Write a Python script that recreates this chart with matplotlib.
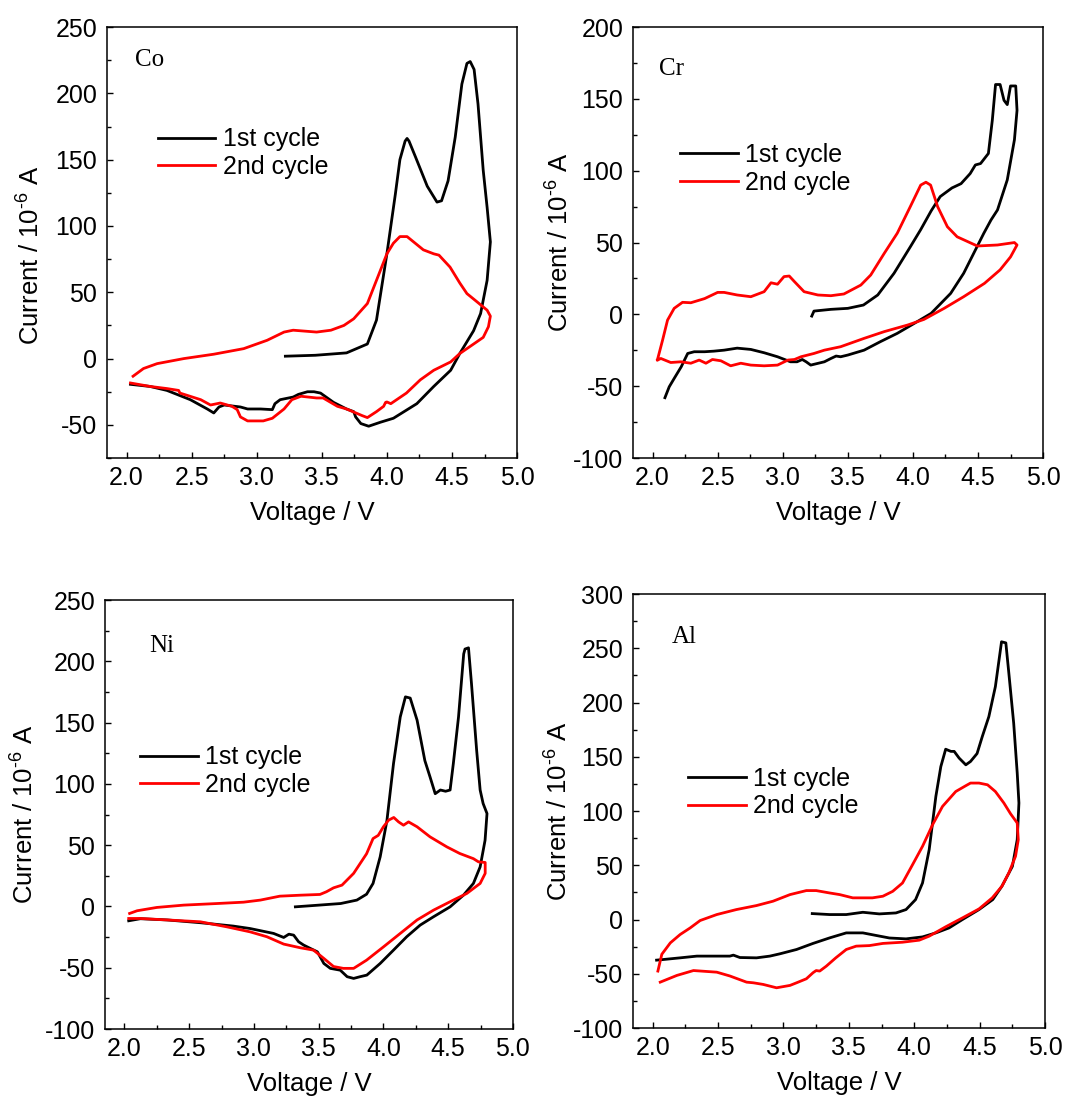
import numpy as np
import matplotlib
matplotlib.use('Agg')
import matplotlib.pyplot as plt
from matplotlib.ticker import MultipleLocator

plt.rcParams['font.family'] = ['Liberation Sans', 'DejaVu Sans']
plt.rcParams['mathtext.fontset'] = 'custom'
plt.rcParams['mathtext.rm'] = 'Liberation Sans'
plt.rcParams['mathtext.it'] = 'Liberation Sans:italic'
plt.rcParams['axes.unicode_minus'] = False

# ---- Co ----
co_v1 = [3.22, 3.45, 3.69, 3.85, 3.92, 4.0, 4.065, 4.10, 4.14, 4.155, 4.17, 4.22, 4.31, 4.385, 4.42, 4.47,
         4.525, 4.576, 4.615, 4.64, 4.67, 4.70, 4.74, 4.77, 4.795, 4.77, 4.72, 4.666, 4.56, 4.49,
         4.36, 4.23, 4.05, 3.95, 3.86, 3.80, 3.76, 3.745, 3.69, 3.59, 3.49, 3.44, 3.39, 3.32, 3.28,
         3.18, 3.14, 3.12, 3.03, 2.93, 2.875, 2.75, 2.71, 2.67, 2.62, 2.49, 2.31, 2.18, 2.03]
co_i1 = [1.8, 2.5, 4.3, 11, 29, 79, 124, 150, 164, 166, 164, 152, 130, 118, 119, 134,
         167, 207, 222.6, 224, 218, 192, 142, 114, 88, 59, 34, 21, 3.8, -8.8,
         -21, -34, -45, -48, -51, -49, -44, -40, -38, -33, -26, -25, -25, -27, -29,
         -31, -34, -38.5, -38, -38, -36.5, -35, -36.5, -41, -38, -31, -24, -21, -19.4]
co_v2 = [2.05, 2.13, 2.235, 2.44, 2.67, 2.9, 3.08, 3.21, 3.28, 3.46, 3.57, 3.67, 3.745, 3.85,
         3.92, 4.0, 4.05, 4.10, 4.155, 4.205, 4.28, 4.36, 4.40, 4.485, 4.56, 4.615, 4.69, 4.77,
         4.795, 4.78, 4.74, 4.69, 4.56, 4.49, 4.36, 4.257, 4.15, 4.03, 4.0, 3.99, 3.975, 3.92,
         3.85, 3.81, 3.69, 3.62, 3.51, 3.46, 3.34, 3.27, 3.21, 3.12, 3.05, 2.93, 2.875, 2.85,
         2.81, 2.72, 2.645, 2.57, 2.465, 2.41, 2.40, 2.31, 2.18, 2.03]
co_i2 = [-13.3, -7.5, -3.8, 0, 3.3, 7.5, 13.8, 20, 21.4, 20, 21.4, 25, 30, 41.5,
         59, 79, 87, 92, 92, 88, 82, 79, 78, 69, 57, 49, 43, 36.5,
         32, 24, 16, 12.6, 3.8, -2.5, -8.8, -16, -26, -34, -32.7, -33, -36, -40,
         -44.5, -43, -38, -36, -29.7, -29.7, -28.4, -31, -38, -45, -47, -47, -44, -38.5,
         -36, -33.5, -35, -31, -27.7, -26, -24, -22.6, -21, -18.4]

# ---- Cr ----
cr_v1 = [3.223, 3.24, 3.37, 3.50, 3.62, 3.73, 3.855, 3.98, 4.06, 4.14, 4.21, 4.30, 4.37, 4.44,
         4.48, 4.52, 4.58, 4.61, 4.635, 4.67, 4.70, 4.725, 4.75, 4.79, 4.80, 4.78, 4.725, 4.65,
         4.60, 4.545, 4.39, 4.29, 4.14, 4.01, 3.88, 3.75, 3.625, 3.50, 3.445, 3.41, 3.37, 3.32,
         3.215, 3.18, 3.15, 3.11, 3.06, 2.96, 2.857, 2.755, 2.65, 2.55, 2.47, 2.40, 2.32, 2.27,
         2.22, 2.166, 2.128, 2.095]
cr_i1 = [-1.2, 2.3, 3.5, 4.2, 6.5, 13.5, 28.6, 47, 59, 72, 82, 88, 91, 98,
         104, 105, 112, 135, 160, 160, 149, 146, 159, 159, 142, 121.5, 93.6, 72.7,
         65.7, 56.5, 28.6, 14.6, 0.7, -6.3, -13.2, -19, -24.9, -28.3, -29.5, -29, -30.7, -33,
         -35.3, -33, -31.4, -33, -33, -29.5, -26.7, -24.4, -23.5, -24.9, -25.6, -26, -26, -27.2,
         -36.5, -44.6, -50.4, -58]
cr_v2 = [2.038, 2.077, 2.115, 2.166, 2.23, 2.294, 2.40, 2.50, 2.55, 2.65, 2.755, 2.857, 2.91,
         2.96, 3.01, 3.05, 3.09, 3.164, 3.27, 3.37, 3.47, 3.60, 3.676, 3.78, 3.88, 3.98, 4.06,
         4.10, 4.136, 4.19, 4.265, 4.34, 4.495, 4.65, 4.78, 4.80, 4.75, 4.67, 4.55, 4.39, 4.24,
         4.085, 3.96, 3.78, 3.625, 3.445, 3.32, 3.24, 3.14, 3.09, 3.04, 2.96, 2.857, 2.755,
         2.678, 2.60, 2.525, 2.46, 2.41, 2.358, 2.294, 2.217, 2.14, 2.064, 2.038]
cr_i2 = [-31.4, -17.9, -4, 4.2, 8.4, 8.1, 11, 15.3, 15.3, 13.5, 12.3, 15.8, 22,
         21, 26.3, 26.7, 22.8, 15.8, 13.5, 13, 14.2, 20.4, 27.4, 42.5, 56.5, 75, 90,
         92, 90, 75, 61, 54, 47.6, 48.3, 50, 48.3, 40, 31, 21.6, 12.3, 4.2,
         -3.5, -7.4, -12, -16.7, -22.5, -24.9, -27.2, -29.5, -31.4, -31.8, -35.3, -35.8, -35.3,
         -34, -35.8, -32.3, -31.4, -34, -31.8, -34, -33, -33.5, -30.7, -31.8]

# ---- Ni ----
ni_v1 = [3.32, 3.49, 3.67, 3.795, 3.87, 3.92, 3.975, 4.027, 4.078, 4.13, 4.17, 4.207, 4.26,
         4.32, 4.36, 4.40, 4.44, 4.48, 4.515, 4.54, 4.58, 4.62, 4.63, 4.657, 4.68, 4.72, 4.747,
         4.77, 4.80, 4.785, 4.747, 4.695, 4.618, 4.515, 4.387, 4.284, 4.18, 4.078, 3.975, 3.872,
         3.82, 3.77, 3.72, 3.667, 3.59, 3.54, 3.49, 3.435, 3.384, 3.345, 3.307, 3.27, 3.23,
         3.152, 2.97, 2.84, 2.59, 2.33, 2.123, 2.033]
ni_i1 = [-0.3, 1, 2.4, 5.2, 10, 18.8, 40.5, 70, 116.6, 154.6, 171, 170, 152,
         119, 105.7, 92, 95, 94, 95, 116.6, 154.6, 206, 210, 211, 182, 127.4, 95,
         84, 75.8, 54, 32.3, 18.8, 9.2, -0.3, -8.4, -15.2, -24.7, -35.6, -46.5, -56,
         -57.3, -58.7, -57.3, -52, -50.5, -46.5, -37, -34.2, -31.5, -28.8, -23.4, -22.6, -25.3,
         -22, -18, -16, -13.3, -11, -10, -11.7]
ni_v2 = [2.04, 2.098, 2.25, 2.458, 2.715, 2.92, 3.05, 3.20, 3.36, 3.51, 3.56, 3.615, 3.68,
         3.77, 3.87, 3.92, 3.96, 4.0, 4.04, 4.08, 4.117, 4.155, 4.194, 4.26, 4.36, 4.49, 4.59,
         4.695, 4.734, 4.786, 4.786, 4.747, 4.644, 4.54, 4.387, 4.26, 4.13, 4.0, 3.87, 3.77,
         3.69, 3.615, 3.54, 3.46, 3.358, 3.23, 3.10, 2.97, 2.79, 2.586, 2.33, 2.123, 2.033]
ni_i2 = [-5.7, -3.5, -0.8, 1.1, 2.4, 3.5, 5.2, 8.4, 9.2, 9.8, 12, 15.2, 17.4,
         27, 43, 55.4, 58, 65, 70.4, 72.6, 69, 66.3, 69, 65, 56.8, 48.6, 43.2,
         39, 36.4, 35.9, 27, 18.8, 10.6, 5.2, -3, -11, -22, -33, -43.8, -50.5,
         -50.5, -49, -42.4, -35.6, -33.7, -30.7, -24.7, -20.7, -16.6, -12.5, -11, -9.8, -9.8]

# ---- Al ----
al_v1 = [3.22, 3.353, 3.48, 3.607, 3.733, 3.86, 3.937, 4.01, 4.063, 4.114, 4.165, 4.203, 4.24,
         4.28, 4.305, 4.343, 4.394, 4.43, 4.48, 4.52, 4.57, 4.62, 4.667, 4.70, 4.723, 4.76,
         4.787, 4.80, 4.787, 4.75, 4.67, 4.60, 4.495, 4.368, 4.266, 4.165, 4.063, 3.937, 3.81,
         3.71, 3.607, 3.48, 3.353, 3.226, 3.10, 2.972, 2.896, 2.794, 2.667, 2.617, 2.59, 2.464,
         2.338, 2.21, 2.084, 2.03]
al_i1 = [5.5, 4.6, 4.6, 6.7, 5.2, 6.1, 9.2, 18.4, 33.7, 64.4, 113.5, 141, 157,
         155, 155, 148.8, 142.6, 145.7, 153, 168.7, 187, 214.7, 256, 255, 227, 181,
         135, 107.4, 73.6, 49, 30.7, 18.4, 9.2, 0, -7.7, -12.3, -16, -17.8, -17,
         -14.7, -12.3, -12.3, -16.9, -22, -27.6, -31.6, -33.7, -35.3, -35, -32.8, -33.7, -33.7,
         -33.7, -35.3, -36.8, -37.4]
al_v2 = [2.04, 2.07, 2.135, 2.21, 2.287, 2.363, 2.49, 2.64, 2.794, 2.92, 3.05, 3.175, 3.25,
         3.353, 3.43, 3.53, 3.68, 3.76, 3.835, 3.91, 3.987, 4.063, 4.14, 4.216, 4.317, 4.393,
         4.43, 4.495, 4.56, 4.62, 4.685, 4.736, 4.787, 4.795, 4.774, 4.723, 4.67, 4.596, 4.495,
         4.368, 4.24, 4.114, 4.038, 3.91, 3.76, 3.657, 3.556, 3.48, 3.40, 3.327, 3.277, 3.25,
         3.226, 3.175, 3.10, 3.05, 2.947, 2.845, 2.77, 2.718, 2.59, 2.49, 2.312, 2.185, 2.058]
al_i2 = [-47.5, -32, -21.5, -13.8, -7.7, -0.9, 4.6, 9.2, 12.9, 16.9, 23, 26.7, 26.7,
         24.5, 23, 20, 20, 21.5, 26, 33.7, 50.6, 67.5, 87.4, 104.3, 118, 123.3,
         125.8, 125.8, 124.2, 118, 107.4, 97.5, 89, 73.6, 58.3, 43, 30.7, 20, 9.8,
         1.5, -6.7, -15.3, -19, -20.9, -22, -24, -24.5, -27.6, -35.3, -43, -47.5, -47,
         -49, -54.6, -58.3, -60.7, -62.9, -59.8, -58.3, -57.7, -52, -48.5, -47, -51.5, -57.7]

panels = [
    dict(rect=[0.1005, 0.5851, 0.385, 0.3904], ylim=(-75, 250), name='Co', name_xy=(0.068, 0.923),
         leg_xy=(0.124, 0.767), ylab_xy=(-0.185, 0.47), data=(co_v1, co_i1, co_v2, co_i2)),
    dict(rect=[0.5944, 0.5851, 0.385, 0.3904], ylim=(-100, 200), name='Cr', name_xy=(0.063, 0.903),
         leg_xy=(0.115, 0.731), ylab_xy=(-0.178, 0.5), data=(cr_v1, cr_i1, cr_v2, cr_i2)),
    dict(rect=[0.0986, 0.0679, 0.383, 0.3886], ylim=(-100, 250), name='Ni', name_xy=(0.108, 0.893),
         leg_xy=(0.086, 0.661), ylab_xy=(-0.196, 0.5), data=(ni_v1, ni_i1, ni_v2, ni_i2)),
    dict(rect=[0.5944, 0.0688, 0.3869, 0.3931], ylim=(-100, 300), name='Al', name_xy=(0.095, 0.900),
         leg_xy=(0.1335, 0.6025), ylab_xy=(-0.18, 0.5), data=(al_v1, al_i1, al_v2, al_i2)),
]

fig = plt.figure(figsize=(10.65, 11.04), dpi=100)
for p in panels:
    ax = fig.add_axes(p['rect'])
    v1, i1, v2, i2 = p['data']
    ax.plot(v1, i1, color='black', lw=2.0, label='1st cycle', solid_joinstyle='round')
    ax.plot(v2, i2, color='red', lw=2.0, label='2nd cycle', solid_joinstyle='round')
    ax.set_xlim(1.85, 5.0)
    ax.set_ylim(*p['ylim'])
    ax.xaxis.set_major_locator(MultipleLocator(0.5))
    ax.xaxis.set_minor_locator(MultipleLocator(0.25))
    ax.yaxis.set_major_locator(MultipleLocator(50))
    ax.yaxis.set_minor_locator(MultipleLocator(25))
    ax.tick_params(which='both', direction='in', labelsize=18, width=1.0)
    ax.tick_params(which='major', length=4.5)
    ax.tick_params(which='minor', length=3)
    ax.tick_params(axis='x', pad=6)
    ax.tick_params(axis='y', pad=7)
    ax.xaxis.set_major_formatter(matplotlib.ticker.FormatStrFormatter('%.1f'))
    for s in ax.spines.values():
        s.set_linewidth(1.1)
    ax.set_xlabel('Voltage / V', fontsize=18.5, labelpad=8)
    ax.set_ylabel(r'Current / 10$^{\text{-6}}$ A', fontsize=18.5, va='center', ha='center')
    ax.yaxis.set_label_coords(*p['ylab_xy'])
    ax.text(p['name_xy'][0], p['name_xy'][1], p['name'], transform=ax.transAxes,
            fontsize=18, family='Liberation Serif', va='center', ha='left')
    ax.legend(loc='upper left', bbox_to_anchor=p['leg_xy'], frameon=False, fontsize=18,
              handlelength=2.3, handletextpad=0.3, labelspacing=0.15,
              borderpad=0, borderaxespad=0)

fig.savefig('out.png', dpi=100)
